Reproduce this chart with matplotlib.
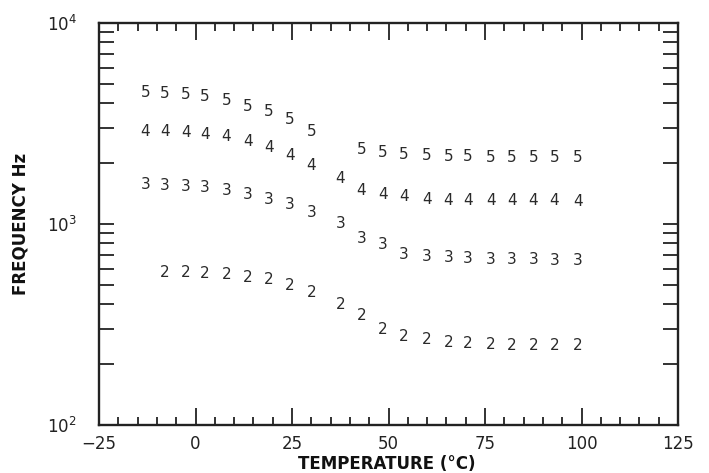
import matplotlib
matplotlib.use("Agg")
import matplotlib.pyplot as plt
from matplotlib.ticker import MultipleLocator, LogLocator, NullFormatter

# temperatures (°C) shared by all series
temperature = [-13, -8, -2.5, 2.5, 8, 13.5, 19, 24.5, 30, 37.5, 43,
               48.5, 54, 60, 65.5, 70.5, 76.5, 82, 87.5, 93, 99]

# frequency (Hz) per series, None = no point
series_5 = [4520, 4470, 4390, 4290, 4110, 3860, 3620, 3320, 2880, None, 2360,
            2280, 2220, 2190, 2170, 2160, 2150, 2150, 2150, 2150, 2150]
series_4 = [2900, 2900, 2850, 2790, 2720, 2565, 2400, 2190, 1950, 1675, 1475,
            1410, 1367, 1327, 1316, 1316, 1316, 1316, 1316, 1316, 1300]
series_3 = [1576, 1563, 1545, 1516, 1476, 1410, 1331, 1244, 1139, 1000, 849,
            795, 709, 688, 683, 675, 667, 667, 667, 662, 662]
series_2 = [None, 575, 573, 569, 562, 543, 527, 497, 455, 398, 349,
            297, 277, 267, 258, 255, 252, 250, 250, 248, 248]

series = {"5": series_5, "4": series_4, "3": series_3, "2": series_2}

fig = plt.figure(figsize=(7.09, 4.73), dpi=100)
ax = fig.add_axes([99 / 709, 48 / 473, 579 / 709, 402 / 473])

ax.set_xlim(-25, 125)
ax.set_yscale("log")
ax.set_ylim(100, 10000)

for label, values in series.items():
    for t, f in zip(temperature, values):
        if f is None:
            continue
        ax.text(t, f, label, ha="center", va="center",
                fontsize=11, color="#2a2a2a")

ax.xaxis.set_major_locator(MultipleLocator(25))
ax.xaxis.set_minor_locator(MultipleLocator(5))
ax.yaxis.set_minor_locator(LogLocator(base=10, subs=range(2, 10)))
ax.yaxis.set_minor_formatter(NullFormatter())

for s in ax.spines.values():
    s.set_linewidth(1.7)
    s.set_color("#222222")

ax.tick_params(axis="both", which="both", direction="in",
               top=True, right=True, color="#222222", width=1.3,
               labelsize=12, labelcolor="#222222")
ax.tick_params(axis="x", which="major", length=12, pad=7)
ax.tick_params(axis="x", which="minor", length=6)
ax.tick_params(axis="y", which="both", length=11, pad=16)

ax.set_xlabel("TEMPERATURE (°C)", fontsize=12, fontweight="bold",
              color="#111111", va="center")
ax.xaxis.set_label_coords(0.497, -0.097)
ax.set_ylabel("FREQUENCY Hz", fontsize=12, fontweight="bold",
              color="#111111", va="center")
ax.yaxis.set_label_coords(-0.136, 0.5)

fig.savefig("out.png", dpi=100)
plt.close(fig)
